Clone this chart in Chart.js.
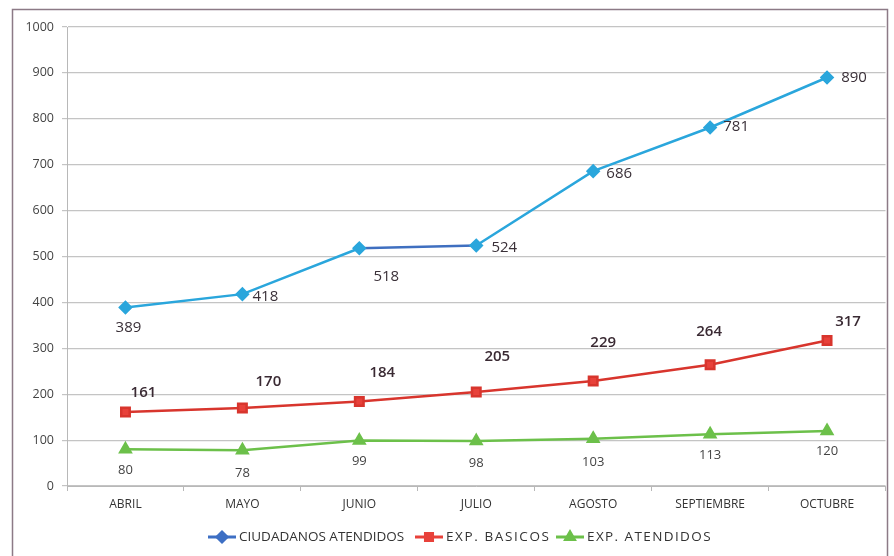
<!DOCTYPE html>
<html><head><meta charset="utf-8">
<script src="https://cdn.jsdelivr.net/npm/chart.js@4"></script>
<style>html,body{margin:0;padding:0;background:#fff}#wrap{width:894px;height:556px;position:relative}</style>
</head><body><div id="wrap"><canvas id="c" width="894" height="556"></canvas></div>
<script>
const categories = ["ABRIL","MAYO","JUNIO","JULIO","AGOSTO","SEPTIEMBRE","OCTUBRE"];
const ciudadanosAtendidos = [389,418,518,524,686,781,890];
const expBasicos = [161,170,184,205,229,264,317];
const expAtendidos = [80,78,99,98,103,113,120];
const seriesNames = ["CIUDADANOS ATENDIDOS","EXP. BASICOS","EXP. ATENDIDOS"];
const yTicks = [0,100,200,300,400,500,600,700,800,900,1000];

// label offsets (styling only)
const labelStyle = [
  {font:"15px 'Open Sans', sans-serif", color:"#3a3038", off:[[3,20],[23,3],[27,28],[28,2],[26,3],[26,-1],[27,0]]},
  {font:"600 15px 'Open Sans', sans-serif", color:"#3a2a33", off:[[18,-19],[26,-26],[23,-29],[21,-35],[10,-38],[-1,-33],[21,-19]]},
  {font:"13px 'Open Sans', sans-serif", color:"#444", off:[[0,21],[0,23],[0,21],[0,22],[0,24],[0,21],[0,20]]}
];

const framePlugin = {
  id:'frame',
  beforeDraw(chart){
    const c = chart.ctx;
    c.save();
    c.fillStyle='#fff'; c.fillRect(0,0,chart.width,chart.height);
    c.strokeStyle='#8c7a86'; c.lineWidth=1.5;
    c.strokeRect(12.5,9.5,875,560);
    c.restore();
  },
  afterDatasetsDraw(chart){
    const c = chart.ctx;
    c.save();
    c.textAlign='center'; c.textBaseline='middle';
    chart.data.datasets.forEach((ds,i)=>{
      const meta = chart.getDatasetMeta(i);
      const st = labelStyle[i];
      c.font = st.font; c.fillStyle = st.color;
      meta.data.forEach((pt,j)=>{
        c.fillText(String(ds.data[j]), pt.x+st.off[j][0], pt.y+st.off[j][1]);
      });
    });
    c.restore();
  },
  afterDraw(chart){
    const c = chart.ctx;
    c.save();
    c.font = "13.5px 'Open Sans', sans-serif";
    c.textBaseline='middle'; c.textAlign='left';
    const y = 537;
    const items = [
      {x:208, color:'#3d6fc4', style:'rectRot', ls:'0px'},
      {x:415, color:'#e8413a', style:'rect', ls:'1.6px'},
      {x:556, color:'#6cc04a', style:'triangle', ls:'1.4px'}
    ];
    items.forEach((it,i)=>{
      c.strokeStyle=it.color; c.lineWidth=3;
      c.beginPath(); c.moveTo(it.x,y); c.lineTo(it.x+28,y); c.stroke();
      c.fillStyle=it.color;
      Chart.helpers.drawPoint(c,{pointStyle:it.style,radius:5,borderWidth:1},it.x+14,y);
      c.fillStyle='#333';
      c.letterSpacing = it.ls;
      c.fillText(seriesNames[i], it.x+31, y);
    });
    c.restore();
  }
};

new Chart(document.getElementById('c'),{
  type:'line',
  data:{
    labels:categories,
    datasets:[
      {label:seriesNames[0], data:ciudadanosAtendidos, borderColor:'#2aa6dc', backgroundColor:'#2aa6dc',
       borderWidth:2.5, pointStyle:'rectRot', pointRadius:5.5, tension:0,
       segment:{borderColor:ctx=>ctx.p0DataIndex===2?'#3f6fc0':'#2aa6dc'}},
      {label:seriesNames[1], data:expBasicos, borderColor:'#d8352d', backgroundColor:'#e8413a',
       borderWidth:2.5, pointStyle:'rect', pointRadius:6, tension:0},
      {label:seriesNames[2], data:expAtendidos, borderColor:'#6cc04a', backgroundColor:'#6cc04a',
       borderWidth:2.5, pointStyle:'triangle', pointRadius:6, tension:0}
    ]
  },
  options:{
    responsive:false, animation:false,
    layout:{padding:{left:12,right:8,top:27,bottom:40}},
    plugins:{legend:{display:false}, tooltip:{enabled:false}},
    scales:{
      x:{offset:true,
        grid:{offset:true, drawOnChartArea:false, drawTicks:true, tickLength:5, color:'#b8b8b8'},
        border:{color:'#b8b8b8'},
        ticks:{color:'#333', font:{family:"'Open Sans', sans-serif", size:12}, padding:6, maxRotation:0},
        afterFit(s){s.height=30;}
      },
      y:{min:0,max:1000,
        afterBuildTicks(s){s.ticks = yTicks.map(v=>({value:v}));},
        grid:{color:'#c4c4c4', tickLength:5, lineWidth:1.2},
        border:{color:'#b8b8b8'},
        ticks:{color:'#444', font:{family:"'Open Sans', sans-serif", size:12.5}, padding:8, callback:v=>String(v)},
        afterFit(s){s.width=55;}
      }
    }
  },
  plugins:[framePlugin]
});
</script></body></html>
